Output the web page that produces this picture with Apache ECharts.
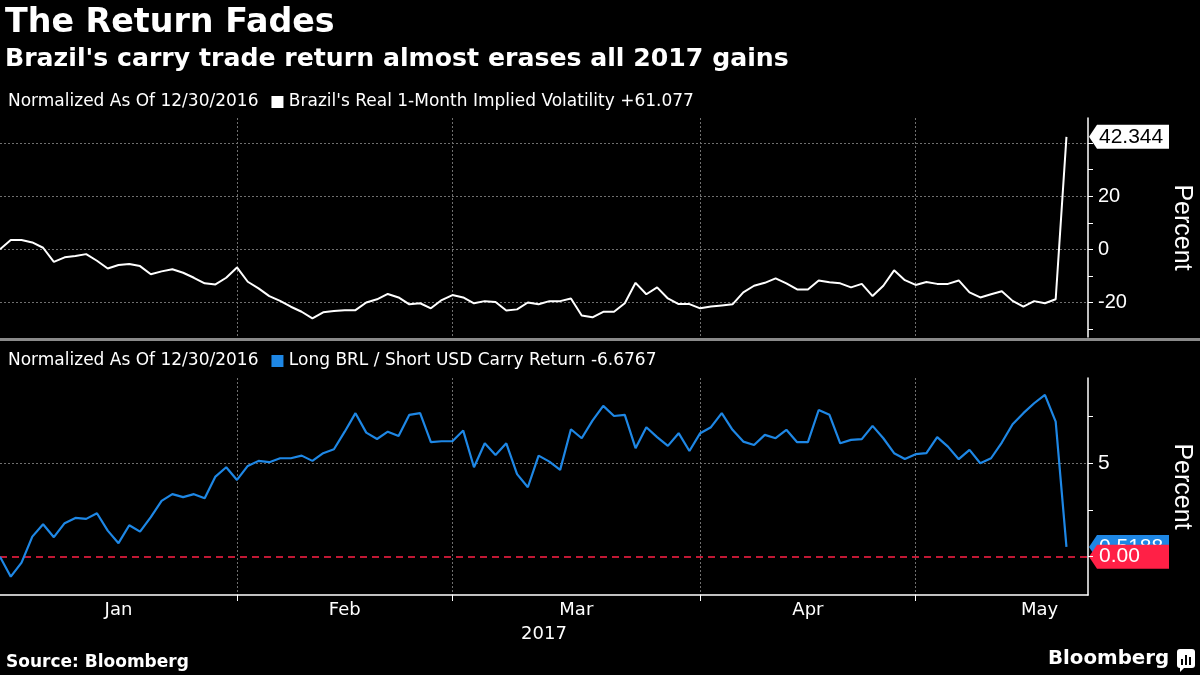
<!DOCTYPE html>
<html><head><meta charset="utf-8">
<style>html,body{margin:0;padding:0;background:#000;}#c{width:1200px;height:675px;}</style>
<script src="https://cdn.jsdelivr.net/npm/echarts@6/dist/echarts.min.js"></script>
</head><body><div id="c"></div>
<script>
// ---- data ----
const firstDate = '2016-12-30';
const lastAxisDate = '2017-05-22';
const monthEndDate = '2017-05-31';
const monthNames = ['Jan', 'Feb', 'Mar', 'Apr', 'May'];
const yearLabel = '2017';

const volValues = [
  0, 3.5, 3.5, 2.6, 0.6, -4.7, -3.0, -2.5, -1.8, -4.3,
  -7.2, -5.9, -5.5, -6.3, -9.4, -8.3, -7.5, -8.8, -10.7, -12.8,
  -13.2, -10.7, -6.8, -12.2, -14.7, -17.6, -19.4, -21.6, -23.5, -26.0,
  -23.7, -23.2, -22.9, -22.9, -20.0, -18.8, -16.8, -18.1, -20.7, -20.3,
  -22.2, -19.1, -17.2, -18.1, -20.3, -19.5, -19.8, -23.0, -22.6, -20.0,
  -20.7, -19.5, -19.5, -18.5, -24.9, -25.6, -23.5, -23.5, -20.3, -12.6,
  -16.9, -14.3, -18.5, -20.6, -20.6, -22.2, -21.5, -21.1, -20.7, -16.2,
  -13.7, -12.6, -10.9, -12.8, -15.1, -15.1, -11.7, -12.4, -12.8, -14.3,
  -13.0, -17.6, -13.7, -7.9, -11.6, -13.4, -12.3, -13.0, -13.0, -11.7,
  -16.2, -18.1, -16.9, -15.8, -19.4, -21.6, -19.5, -20.3, -18.8, 42.344
];
const carryValues = [
  0, -1.07, -0.32, 1.07, 1.73, 1.04, 1.79, 2.07, 2.02, 2.32,
  1.39, 0.72, 1.68, 1.34, 2.11, 2.98, 3.34, 3.18, 3.34, 3.12,
  4.28, 4.78, 4.10, 4.85, 5.12, 5.05, 5.26, 5.26, 5.40, 5.12,
  5.53, 5.74, 6.68, 7.67, 6.63, 6.29, 6.68, 6.45, 7.58, 7.67,
  6.12, 6.17, 6.17, 6.74, 4.78, 6.06, 5.44, 6.06, 4.41, 3.71,
  5.40, 5.08, 4.64, 6.81, 6.33, 7.27, 8.06, 7.52, 7.58, 5.80,
  6.92, 6.39, 5.92, 6.60, 5.65, 6.60, 6.92, 7.67, 6.78, 6.15,
  5.97, 6.51, 6.33, 6.78, 6.12, 6.12, 7.84, 7.58, 6.06, 6.24,
  6.28, 6.99, 6.33, 5.53, 5.22, 5.48, 5.53, 6.39, 5.88, 5.21,
  5.71, 4.99, 5.26, 6.10, 7.08, 7.67, 8.20, 8.65, 7.22, 0.5188
];
const volLastLabel = '42.344';
const carryLastLabel = '0.5188';
const zeroLabel = '0.00';
const volTickValues = [-30, -20, -10, 0, 10, 20, 30, 40];
const volLabelValues = [-20, 0, 20];
const volGridValues = [40, 20, 0, -20];
const carryTickValues = [0, 2.5, 5, 7.5];
const carryLabelValues = [5];
const carryGridValues = [5];
const volLegend = "Brazil's Real 1-Month Implied Volatility +61.077";
const carryLegend = 'Long BRL / Short USD Carry Return -6.6767';
const normLabel = 'Normalized As Of 12/30/2016';

// ---- business-day categories ----
function weekdays(from, to) {
  const out = [];
  const d = new Date(from + 'T00:00:00Z');
  const end = new Date(to + 'T00:00:00Z');
  while (d <= end) {
    const w = d.getUTCDay();
    if (w !== 0 && w !== 6) out.push(d.toISOString().slice(0, 10));
    d.setUTCDate(d.getUTCDate() + 1);
  }
  return out;
}
const categories = weekdays(firstDate, lastAxisDate);
const fullDays = weekdays(firstDate, monthEndDate);
const boundaries = [];
for (let i = 0; i < fullDays.length; i++) {
  if (i === fullDays.length - 1 || fullDays[i].slice(5, 7) !== fullDays[i + 1].slice(5, 7)) boundaries.push(i);
}
const monthCenters = [];
for (let k = 0; k + 1 < boundaries.length; k++) monthCenters.push((boundaries[k] + boundaries[k + 1]) / 2);
const tickSet = new Set(boundaries.filter(b => b > 0 && b < categories.length - 1));

const WHITE = '#ffffff', BLUE = '#1e87e5', RED = '#ff2046', GRID = '#6f6f6f';
const FONT = 'DejaVu Sans';

const chart = echarts.init(document.getElementById('c'), null, {renderer: 'canvas'});
const gridLine = {show: true, lineStyle: {color: GRID, type: [2, 2], width: 1}};
const legendRich = (sqColor) => ({
  a: {color: WHITE, fontSize: 17, fontFamily: FONT, fontWeight: 'normal'},
  g: {width: 13},
  sq: {width: 12, height: 12, backgroundColor: sqColor, verticalAlign: 'middle'},
  b: {color: WHITE, fontSize: 17, fontFamily: FONT, fontWeight: 'normal'}
});

chart.setOption({
  backgroundColor: '#000',
  animation: false,
  title: [
    {text: 'The Return Fades', left: 5, top: 7, padding: 0, textStyle: {color: WHITE, fontSize: 33.3, fontWeight: 'bold', fontFamily: FONT}},
    {text: "Brazil's carry trade return almost erases all 2017 gains", left: 5, top: 47, padding: 0, textStyle: {color: WHITE, fontSize: 25.2, fontWeight: 'bold', fontFamily: FONT}},
    {text: '{a|' + normLabel + '}{g|}{sq|}{b| ' + volLegend + '}', left: 8, top: 93, padding: 0,
      textStyle: {fontWeight: 'normal', rich: legendRich(WHITE)}},
    {text: '{a|' + normLabel + '}{g|}{sq|}{b| ' + carryLegend + '}', left: 8, top: 352, padding: 0,
      textStyle: {fontWeight: 'normal', rich: legendRich(BLUE)}},
    {text: 'Source: Bloomberg', left: 6, top: 654, padding: 0, textStyle: {color: WHITE, fontSize: 17, fontWeight: 'bold', fontFamily: FONT}},
    {text: 'Bloomberg', left: 1048, top: 649, padding: 0, textStyle: {color: WHITE, fontSize: 19.8, fontWeight: 'bold', fontFamily: FONT}}
  ],
  grid: [
    {left: 0, top: 118, width: 1088, height: 219, containLabel: false, outerBoundsMode: 'none'},
    {left: 0, top: 378, width: 1088, height: 217, containLabel: false, outerBoundsMode: 'none'}
  ],
  xAxis: [
    {gridIndex: 0, type: 'category', data: categories, boundaryGap: false,
      axisLine: {show: false, onZero: false}, axisTick: {show: false}, axisLabel: {show: false},
      splitLine: Object.assign({interval: i => tickSet.has(i)}, gridLine)},
    {gridIndex: 1, type: 'category', data: categories, boundaryGap: false, position: 'bottom',
      axisLine: {show: true, onZero: false, lineStyle: {color: WHITE, width: 1.5}},
      axisTick: {show: true, interval: i => tickSet.has(i), length: 6, lineStyle: {color: WHITE, width: 1}},
      axisLabel: {show: false},
      splitLine: Object.assign({interval: i => tickSet.has(i)}, gridLine)},
    {gridIndex: 1, type: 'value', position: 'bottom', min: 0, max: categories.length - 1,
      axisLine: {show: false, onZero: false}, axisTick: {show: false}, splitLine: {show: false},
      axisLabel: {show: true, customValues: monthCenters, color: WHITE, fontSize: 18, fontFamily: FONT, margin: 6,
        formatter: v => monthNames[monthCenters.indexOf(v)] || ''},
      name: yearLabel, nameLocation: 'middle', nameGap: 30,
      nameTextStyle: {color: WHITE, fontSize: 18, fontFamily: FONT}}
  ],
  yAxis: [
    {gridIndex: 0, type: 'value', position: 'right', min: -33, max: 49.45,
      axisLine: {show: true, onZero: false, lineStyle: {color: WHITE, width: 1.5}},
      axisTick: {show: true, customValues: volTickValues, length: 5, lineStyle: {color: WHITE}},
      axisLabel: {customValues: volLabelValues, color: WHITE, fontSize: 20, fontFamily: 'Liberation Sans', margin: 10},
      splitLine: {show: false},
      name: 'Percent', nameLocation: 'middle', nameRotate: -90, nameGap: 81,
      nameTextStyle: {color: WHITE, fontSize: 25, fontFamily: 'Liberation Sans'}},
    {gridIndex: 1, type: 'value', position: 'right', min: -2.05, max: 9.55,
      axisLine: {show: true, onZero: false, lineStyle: {color: WHITE, width: 1.5}},
      axisTick: {show: true, customValues: carryTickValues, length: 5, lineStyle: {color: WHITE}},
      axisLabel: {customValues: carryLabelValues, color: WHITE, fontSize: 21, fontFamily: 'Liberation Sans', margin: 10},
      splitLine: {show: false},
      name: 'Percent', nameLocation: 'middle', nameRotate: -90, nameGap: 81,
      nameTextStyle: {color: WHITE, fontSize: 25, fontFamily: 'Liberation Sans'}}
  ],
  series: [
    {type: 'line', xAxisIndex: 0, yAxisIndex: 0, data: volValues, symbol: 'none',
      lineStyle: {color: WHITE, width: 2}, z: 5,
      markLine: {silent: true, symbol: 'none', label: {show: false}, z: 1,
        lineStyle: {color: GRID, type: [2, 2], width: 1},
        data: volGridValues.map(v => ({yAxis: v}))}},
    {type: 'line', xAxisIndex: 1, yAxisIndex: 1, data: carryValues, symbol: 'none',
      lineStyle: {color: BLUE, width: 2.2}, z: 5,
      markLine: {silent: true, symbol: 'none', label: {show: false}, z: 1,
        lineStyle: {color: GRID, type: [2, 2], width: 1},
        data: carryGridValues.map(v => ({yAxis: v})).concat([
          {yAxis: 0, lineStyle: {color: RED, type: [7, 5], width: 1.5}}
        ])}}
  ]
});

// ---- value tags at the right axis ----
function tag(y, text, bg, fg) {
  const x0 = 1089, h = 24, xs = 1097, xe = 1169;
  return {type: 'group', z: 50, children: [
    {type: 'polygon', shape: {points: [[x0, y], [xs, y - h / 2], [xe, y - h / 2], [xe, y + h / 2], [xs, y + h / 2]]},
      style: {fill: bg}},
    {type: 'text', x: 1099, y: y, style: {text: text, fill: fg, font: '21px "Liberation Sans"', textVerticalAlign: 'middle', textAlign: 'left'}}
  ]};
}
const yVol = chart.convertToPixel({yAxisIndex: 0}, volValues[volValues.length - 1]);
const yCarry = chart.convertToPixel({yAxisIndex: 1}, carryValues[carryValues.length - 1]);
const yZero = chart.convertToPixel({yAxisIndex: 1}, 0);
chart.setOption({graphic: [
  {type: 'rect', shape: {x: 0, y: 338, width: 1200, height: 3}, style: {fill: '#8a8a8a'}, z: 40},
  tag(yVol, volLastLabel, WHITE, '#000'),
  tag(yCarry, carryLastLabel, BLUE, WHITE),
  tag(yZero, zeroLabel, RED, WHITE),
  {type: 'group', z: 50, children: [
    {type: 'rect', shape: {x: 1177, y: 649, width: 18, height: 19, r: 3}, style: {fill: WHITE}},
    {type: 'polygon', shape: {points: [[1180, 667], [1180, 672], [1185, 667]]}, style: {fill: WHITE}},
    {type: 'rect', shape: {x: 1181, y: 659, width: 2, height: 6}, style: {fill: '#000'}},
    {type: 'rect', shape: {x: 1185, y: 655, width: 2, height: 10}, style: {fill: '#000'}},
    {type: 'rect', shape: {x: 1189, y: 657, width: 2, height: 8}, style: {fill: '#000'}}
  ]}
]});
</script>
</body></html>
